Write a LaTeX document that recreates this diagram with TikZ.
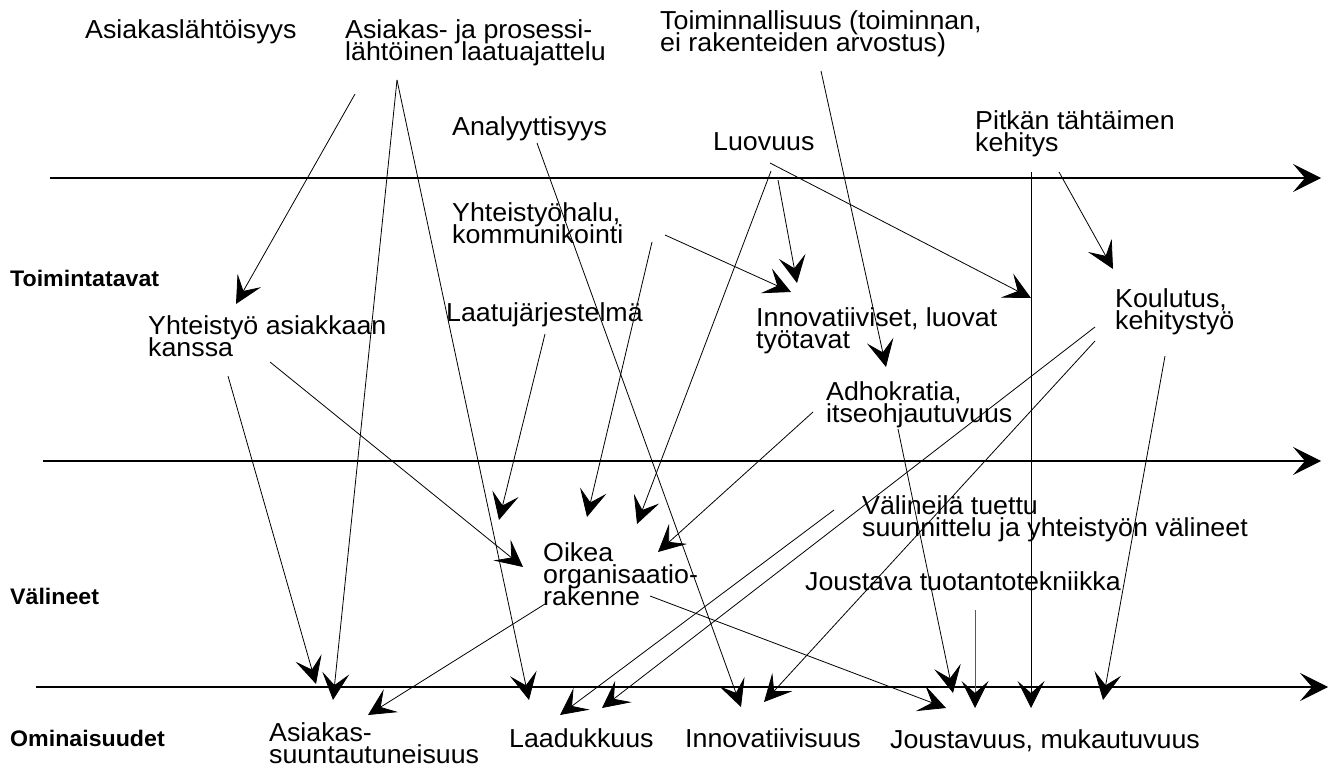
\documentclass[tikz,border=0pt]{standalone}
\usepackage{fontspec}
\setmainfont[FakeStretch=1.03]{Liberation Sans}
\usetikzlibrary{arrows.meta}
\newcommand\twol[2]{\vtop{\lineskiplimit=-50pt\relax\hbox{#1}\hbox{#2}}}
\newcommand\threel[3]{\vtop{\lineskiplimit=-50pt\relax\hbox{#1}\hbox{#2}\hbox{#3}}}
\begin{document}
\begin{tikzpicture}[x=1pt,y=-1pt,
  txt/.style={anchor=base west,inner sep=0pt,font=\fontsize{26}{22}\selectfont},
  lab/.style={anchor=base west,inner sep=0pt,font=\fontsize{22.5}{22}\selectfont\bfseries},
  axis/.style={line width=1.1pt,-{Stealth[length=28pt,width=28pt,inset=12pt]}},
  arr/.style={line width=0.8pt,-{Stealth[length=27pt,width=27pt,inset=12pt,black]}}]
\useasboundingbox[fill=white] (0,0) rectangle (1335,767);
% axes
\coordinate (ax1s) at (50,178);  \coordinate (ax1e) at (1321,178);
\coordinate (ax2s) at (43,461);  \coordinate (ax2e) at (1321,461);
\coordinate (ax3s) at (36,687);  \coordinate (ax3e) at (1328,687);
\draw[axis] (ax1s) -- (ax1e);
\draw[axis] (ax2s) -- (ax2e);
\draw[axis] (ax3s) -- (ax3e);
% labels
\node[lab] (tt) at (10,286) {Toimintatavat};
\node[lab] (vb) at (10,604) {Välineet};
\node[lab] (ob) at (10,746) {Ominaisuudet};
% texts
\node[txt] (asl) at (85,39) {Asiakaslähtöisyys};
\node[txt] (app) at (345,39) {\twol{Asiakas- ja prosessi-}{lähtöinen laatuajattelu}};
\node[txt] (toi) at (660,30) {\twol{Toiminnallisuus (toiminnan,}{ei rakenteiden arvostus)}};
\node[txt] (ana) at (452,136) {Analyyttisyys};
\node[txt] (luo) at (713,151) {Luovuus};
\node[txt] (pit) at (975,130) {\twol{Pitkän tähtäimen}{kehitys}};
\node[txt] (yhh) at (452,222) {\twol{Yhteistyöhalu,}{kommunikointi}};
\node[txt] (yak) at (148,334) {\twol{Yhteistyö asiakkaan}{kanssa}};
\node[txt] (laa) at (446,321) {Laatujärjestelmä};
\node[txt] (inn) at (756,326) {\twol{Innovatiiviset, luovat}{työtavat}};
\node[txt] (kou) at (1115,307) {\twol{Koulutus,}{kehitystyö}};
\node[txt] (adh) at (826,400) {\twol{Adhokratia,}{itseohjautuvuus}};
\node[txt] (oik) at (543,561) {\threel{Oikea}{organisaatio-}{rakenne}};
\node[txt] (val) at (862,514) {\twol{Välineilä tuettu}{suunnittelu ja yhteistyön välineet}};
\node[txt] (jtt) at (805,590) {Joustava tuotantotekniikka};
\node[txt] (ass) at (269,741) {\twol{Asiakas-}{suuntautuneisuus}};
\node[txt] (lad) at (509,747) {Laadukkuus};
\node[txt] (inv) at (685,747) {Innovatiivisuus};
\node[txt] (jou) at (890,748) {Joustavuus, mukautuvuus};
% connector end points
\coordinate (c1s) at (355,94);   \coordinate (c1e) at (236,304);
\coordinate (c2s) at (397,80);   \coordinate (c2e) at (333,700);
\coordinate (c3e) at (529,700);
\coordinate (c4s) at (537,143);  \coordinate (c4e) at (741,707);
\coordinate (c5s) at (771,171);  \coordinate (c5e) at (637,524);
\coordinate (c6s) at (778,180);  \coordinate (c6e) at (797,283);
\coordinate (c7s) at (770,163);  \coordinate (c7e) at (1031,298);
\coordinate (c8s) at (821,71);   \coordinate (c8e) at (886,367);
\coordinate (c9s) at (1031,172); \coordinate (c9e) at (1031,708);
\coordinate (c10s) at (1059,172); \coordinate (c10e) at (1113,269);
\coordinate (c11s) at (665,235); \coordinate (c11e) at (791,292);
\coordinate (c12s) at (652,242); \coordinate (c12e) at (587,517);
\coordinate (c13s) at (545,334); \coordinate (c13e) at (499,520);
\coordinate (c14s) at (228,376); \coordinate (c14e) at (316,684);
\coordinate (c15s) at (270,362); \coordinate (c15e) at (523,567);
\coordinate (c16s) at (813,412); \coordinate (c16e) at (658,552);
\coordinate (c17s) at (898,429); \coordinate (c17e) at (953,693);
\coordinate (c18s) at (1095,327); \coordinate (c18e) at (602,708);
\coordinate (c19s) at (1095,341); \coordinate (c19e) at (764,702);
\coordinate (c20s) at (1165,356); \coordinate (c20e) at (1103,700);
\coordinate (c21s) at (834,510); \coordinate (c21e) at (560,715);
\coordinate (c22s) at (545,604); \coordinate (c22e) at (368,715);
\coordinate (c23s) at (650,596); \coordinate (c23e) at (946,708);
\coordinate (c24s) at (975,610); \coordinate (c24e) at (975,708);
\foreach \i in {1,4,5,6,7,8,9,10,11,12,13,14,15,16,17,18,19,20,21,22,23}
  \draw[arr] (c\i s) -- (c\i e);
\draw[arr] (c2s) -- (c2e);
\draw[arr] (c2s) -- (c3e);
\draw[arr,draw=black!65] (c24s) -- (c24e);
\end{tikzpicture}
\end{document}
